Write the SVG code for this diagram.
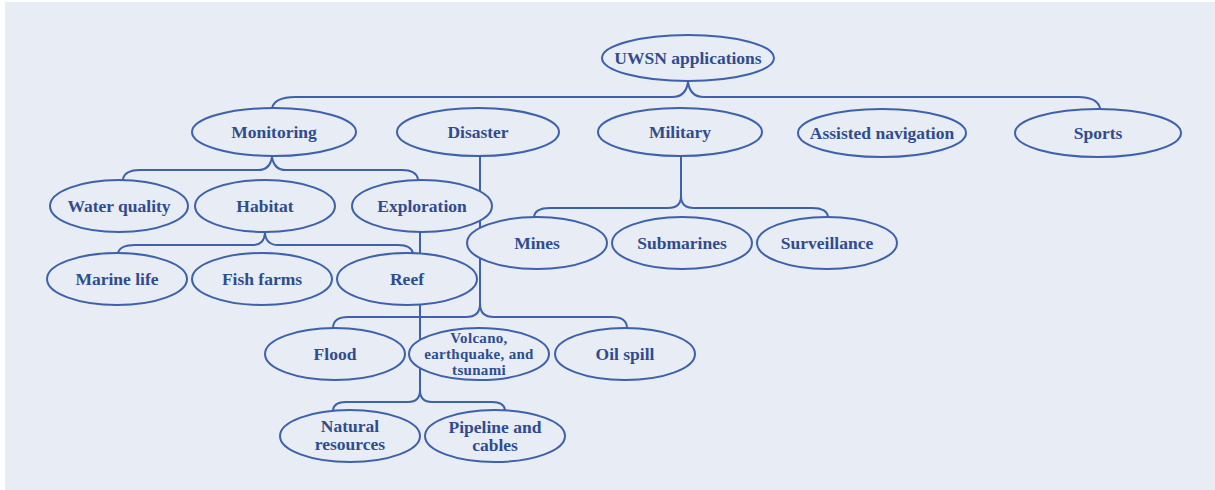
<svg xmlns="http://www.w3.org/2000/svg" width="1215" height="490" viewBox="0 0 1215 490">
<style>
.c{fill:none;stroke:#3d61aa;stroke-width:2;stroke-linecap:round}
.n ellipse{fill:#e8ecf5;stroke:#3d61aa;stroke-width:2}
.n text{font-family:"Liberation Serif","Times New Roman",serif;font-weight:bold;font-size:17.5px;fill:#2e4c8e;text-anchor:middle}
.n text.s{font-size:15px;letter-spacing:0.3px}
</style>
<rect x="0" y="0" width="1215" height="490" fill="#ffffff"/>
<rect x="5" y="2" width="1210" height="488" fill="#e8ecf5"/>
<g id="connectors">
<path class="c" d="M272 108 Q275 97 295 97 L672 97 Q686 97 688 82 Q690 97 704 97 L1078 97 Q1097 97 1100 108"/>
<path class="c" d="M123 179 Q125 170 140 170 L258 170 Q270 170 272 157 Q274 170 286 170 L402 170 Q416 170 418 179"/>
<path class="c" d="M118 253 Q120 245 135 245 L253 245 Q264 245 265 233 Q266 245 278 245 L398 245 Q411 245 413 253"/>
<path class="c" d="M681 156 L681 196 Q681 208 668 208 L550 208 Q535 208 534 217 M681 196 Q681 208 694 208 L812 208 Q827 208 828 217"/>
<path class="c" d="M480 156 L480 304 Q480 317 466 317 L348 317 Q334 317 333 327 M480 304 Q480 317 494 317 L612 317 Q626 317 627 327"/>
<path class="c" d="M420 232 L420 390 Q420 402 408 402 L346 402 Q334 402 333 410 M420 390 Q420 402 432 402 L492 402 Q504 402 505 410"/>
</g>
<g id="uwsn" class="n"><ellipse cx="688" cy="58" rx="86" ry="23"/><text x="688" y="64">UWSN applications</text></g>
<g id="monitoring" class="n"><ellipse cx="274" cy="132" rx="82" ry="24"/><text x="274" y="138">Monitoring</text></g>
<g id="disaster" class="n"><ellipse cx="478" cy="132" rx="81" ry="24"/><text x="478" y="138">Disaster</text></g>
<g id="military" class="n"><ellipse cx="680" cy="132" rx="82" ry="24"/><text x="680" y="138">Military</text></g>
<g id="assisted-navigation" class="n"><ellipse cx="882" cy="133" rx="84" ry="24"/><text x="882" y="139">Assisted navigation</text></g>
<g id="sports" class="n"><ellipse cx="1098" cy="133" rx="83" ry="24"/><text x="1098" y="139">Sports</text></g>
<g id="water-quality" class="n"><ellipse cx="119" cy="206" rx="69" ry="26"/><text x="119" y="212">Water quality</text></g>
<g id="habitat" class="n"><ellipse cx="265" cy="206" rx="70" ry="26"/><text x="265" y="212">Habitat</text></g>
<g id="exploration" class="n"><ellipse cx="422" cy="206" rx="70" ry="26"/><text x="422" y="212">Exploration</text></g>
<g id="marine-life" class="n"><ellipse cx="117" cy="279" rx="70" ry="26"/><text x="117" y="285">Marine life</text></g>
<g id="fish-farms" class="n"><ellipse cx="262" cy="279" rx="70" ry="26"/><text x="262" y="285">Fish farms</text></g>
<g id="reef" class="n"><ellipse cx="407" cy="279" rx="70" ry="26"/><text x="407" y="285">Reef</text></g>
<g id="mines" class="n"><ellipse cx="537" cy="243" rx="70" ry="26"/><text x="537" y="249">Mines</text></g>
<g id="submarines" class="n"><ellipse cx="682" cy="243" rx="70" ry="26"/><text x="682" y="249">Submarines</text></g>
<g id="surveillance" class="n"><ellipse cx="827" cy="243" rx="70" ry="26"/><text x="827" y="249">Surveillance</text></g>
<g id="flood" class="n"><ellipse cx="335" cy="354" rx="70" ry="26"/><text x="335" y="360">Flood</text></g>
<g id="volcano" class="n"><ellipse cx="479" cy="354" rx="70" ry="26"/><text class="s" x="479" y="343">Volcano,</text><text class="s" x="479" y="359">earthquake, and</text><text class="s" x="479" y="375">tsunami</text></g>
<g id="oil-spill" class="n"><ellipse cx="625" cy="354" rx="70" ry="26"/><text x="625" y="360">Oil spill</text></g>
<g id="natural-resources" class="n"><ellipse cx="350" cy="436" rx="70" ry="26"/><text x="350" y="432">Natural</text><text x="350" y="450">resources</text></g>
<g id="pipeline-cables" class="n"><ellipse cx="495" cy="436" rx="70" ry="26"/><text x="495" y="433">Pipeline and</text><text x="495" y="451">cables</text></g>
</svg>
